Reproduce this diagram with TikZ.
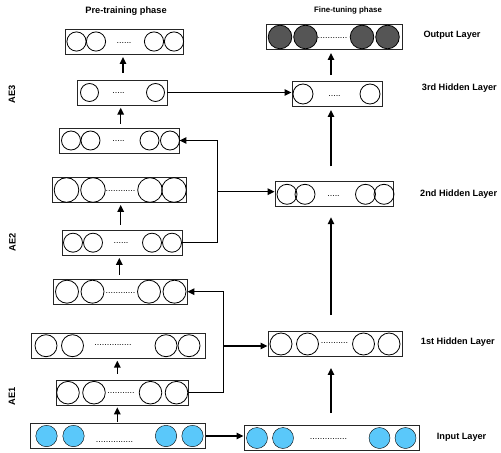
\documentclass[tikz,border=0pt]{standalone}
\usepackage{fontspec}
\setmainfont{Liberation Sans}
\usetikzlibrary{arrows.meta}
\definecolor{nblue}{HTML}{5AC8FA}
\definecolor{ndark}{HTML}{555555}
\tikzset{
 layerbox/.style={draw=black!85, line width=0.9bp, minimum height=25bp, inner sep=0pt, rectangle},
 unit/.style={draw=black, line width=0.8bp},
 inunit/.style={fill=nblue},
 outunit/.style={fill=ndark, draw=black, line width=0.8bp},
 dotsnode/.style={font=\fontsize{9}{9}\selectfont, inner sep=0pt, anchor=base},
 conn/.style={-{Triangle[length=7bp,width=6.5bp]}, line width=1.4bp},
 lab/.style={font=\bfseries\fontsize{9.2}{11}\selectfont, inner sep=0pt, anchor=west},
 ttl/.style={font=\bfseries\fontsize{9.3}{11}\selectfont, inner sep=0pt},
 ttlb/.style={font=\bfseries\fontsize{7.9}{9}\selectfont, inner sep=0pt},
 ae/.style={font=\bfseries\fontsize{9.3}{11}\selectfont, inner sep=0pt, rotate=90},
}
% #1 name, #2 cx, #3 cy, #4 width, #5 circle xs, #6 radius, #7 circle style, #8 dots position, #9 dots
\newcommand{\nnlayer}[9]{%
 \node[layerbox, minimum width=#4bp] (#1) at (#2,#3) {};
 \foreach \cxx in {#5} {\draw[#7] (\cxx,#3) circle[radius=#6bp];}
 \node[dotsnode] (#1d) at (#8) {#9};
}
\begin{document}
\begin{tikzpicture}[x=1bp,y=-1bp]
\useasboundingbox (0,0) rectangle (501,453);
% titles
\node[ttl] (tpre) at (126,11) {Pre-training phase};
\node[ttlb] (tfine) at (348,10.5) {Fine-tuning phase};
% AE labels
\node[ae] (ae3) at (12,94) {AE3};
\node[ae] (ae2) at (12.5,242) {AE2};
\node[ae] (ae1) at (12,396) {AE1};
% left column
\nnlayer{L7}{124}{41.5}{118}{76.5,96,154,174}{9.6}{unit}{124,44}{......}
\nnlayer{L6}{122}{92.5}{90}{89.5,155.5}{9}{unit}{118.5,94}{.....}
\nnlayer{L5}{119}{140.5}{120}{71,90.5,149.5,170}{9.5}{unit}{118.5,142}{.....}
\nnlayer{L4}{119}{190}{134}{66.5,93,150,174}{12.3}{unit}{120.5,192}{............}
\nnlayer{L3}{122}{242.7}{120}{73,93,152,172}{9.5}{unit}{121,244}{......}
\nnlayer{L2}{120}{291.7}{134}{67,92.5,149,174.5}{11.5}{unit}{120.5,293}{............}
\nnlayer{L1b}{118}{345.7}{174}{46,72.5,166,189}{11}{unit}{113,345}{...............}
\nnlayer{L1}{122}{392.7}{132}{68,94,150.5,176.5}{11.3}{unit}{121,393.5}{...........}
\nnlayer{IL}{118}{436}{175}{46.5,73.5,166,192.5}{10.7}{inunit}{114.5,442.5}{...............}
% right column
\nnlayer{OUT}{334}{37}{136}{280,305.5,362,387.5}{11.8}{outunit}{332.5,39}{............}
\nnlayer{H3}{337}{94}{90}{303,370}{10}{unit}{334.5,97}{.....}
\nnlayer{H2}{334}{194.3}{118}{287,305,365.5,384}{10}{unit}{333.5,196.5}{.....}
\nnlayer{H1}{335}{344}{134}{281,307.5,363.5,389}{11}{unit}{334.5,343.5}{...........}
\nnlayer{IR}{331.5}{438}{175}{257,283,379.5,405.5}{10.5}{inunit}{328.5,439}{...............}
% layer labels
\node[lab] (lout) at (423.3,35) {Output Layer};
\node[lab] (lh3) at (421.7,88.3) {3rd Hidden Layer};
\node[lab] (lh2) at (420,194.3) {2nd Hidden Layer};
\node[lab] (lh1) at (420.7,342.3) {1st Hidden Layer};
\node[lab] (lin) at (436.7,437.3) {Input Layer};
% vertical arrows, left
\draw[conn] ([shift={(1,-7)}]L6.north) -- ([shift={(1,2.5)}]L6.north |- L7.south);
\draw[conn] ([shift={(1.7,-4)}]L5.north) -- ([shift={(1.7,2.3)}]L5.north |- L6.south);
\draw[conn] ([shift={(-1.3,-5)}]L3.north) -- ([shift={(-1.3,2)}]L3.north |- L4.south);
\draw[conn] ([shift={(-0.7,-4)}]L2.north) -- ([shift={(-0.7,2.3)}]L2.north |- L3.south);
\draw[conn] ([shift={(-4.7,-6)}]L1.north) -- ([shift={(-4.7,2)}]L1.north |- L1b.south);
\draw[conn] ([shift={(-0.7,-1.3)}]IL.north) -- ([shift={(-0.7,1.7)}]IL.north |- L1.south);
% vertical arrows, right
\draw[conn] ([shift={(-0.5,-12)}]IR.north) -- ([shift={(-0.5,11)}]IR.north |- H1.south);
\draw[conn] ([shift={(-4,-16)}]H1.north) -- ([shift={(-4,10)}]H1.north |- H2.south);
\draw[conn] ([shift={(-3,-15)}]H2.north) -- ([shift={(-3,3)}]H2.north |- H3.south);
\draw[conn] ([shift={(-6,-6)}]H3.north) -- ([shift={(-6,3)}]H3.north |- OUT.south);
% horizontal connectors
\draw[conn] (L6.east) -- (L6.east -| H3.west);
\draw[conn] (L3.east) -- ++(35,0) |- (L5.east);
\coordinate (J2) at (217,191.7);
\draw[conn] (J2) -- (J2 -| H2.west);
\draw[conn] (L1.east) -- ++(35,0) |- (L2.east);
\coordinate (J1) at (223,346);
\draw[conn] (J1) -- (J1 -| H1.west);
\draw[conn] (IL.east) -- (IL.east -| IR.west);
\end{tikzpicture}
\end{document}
